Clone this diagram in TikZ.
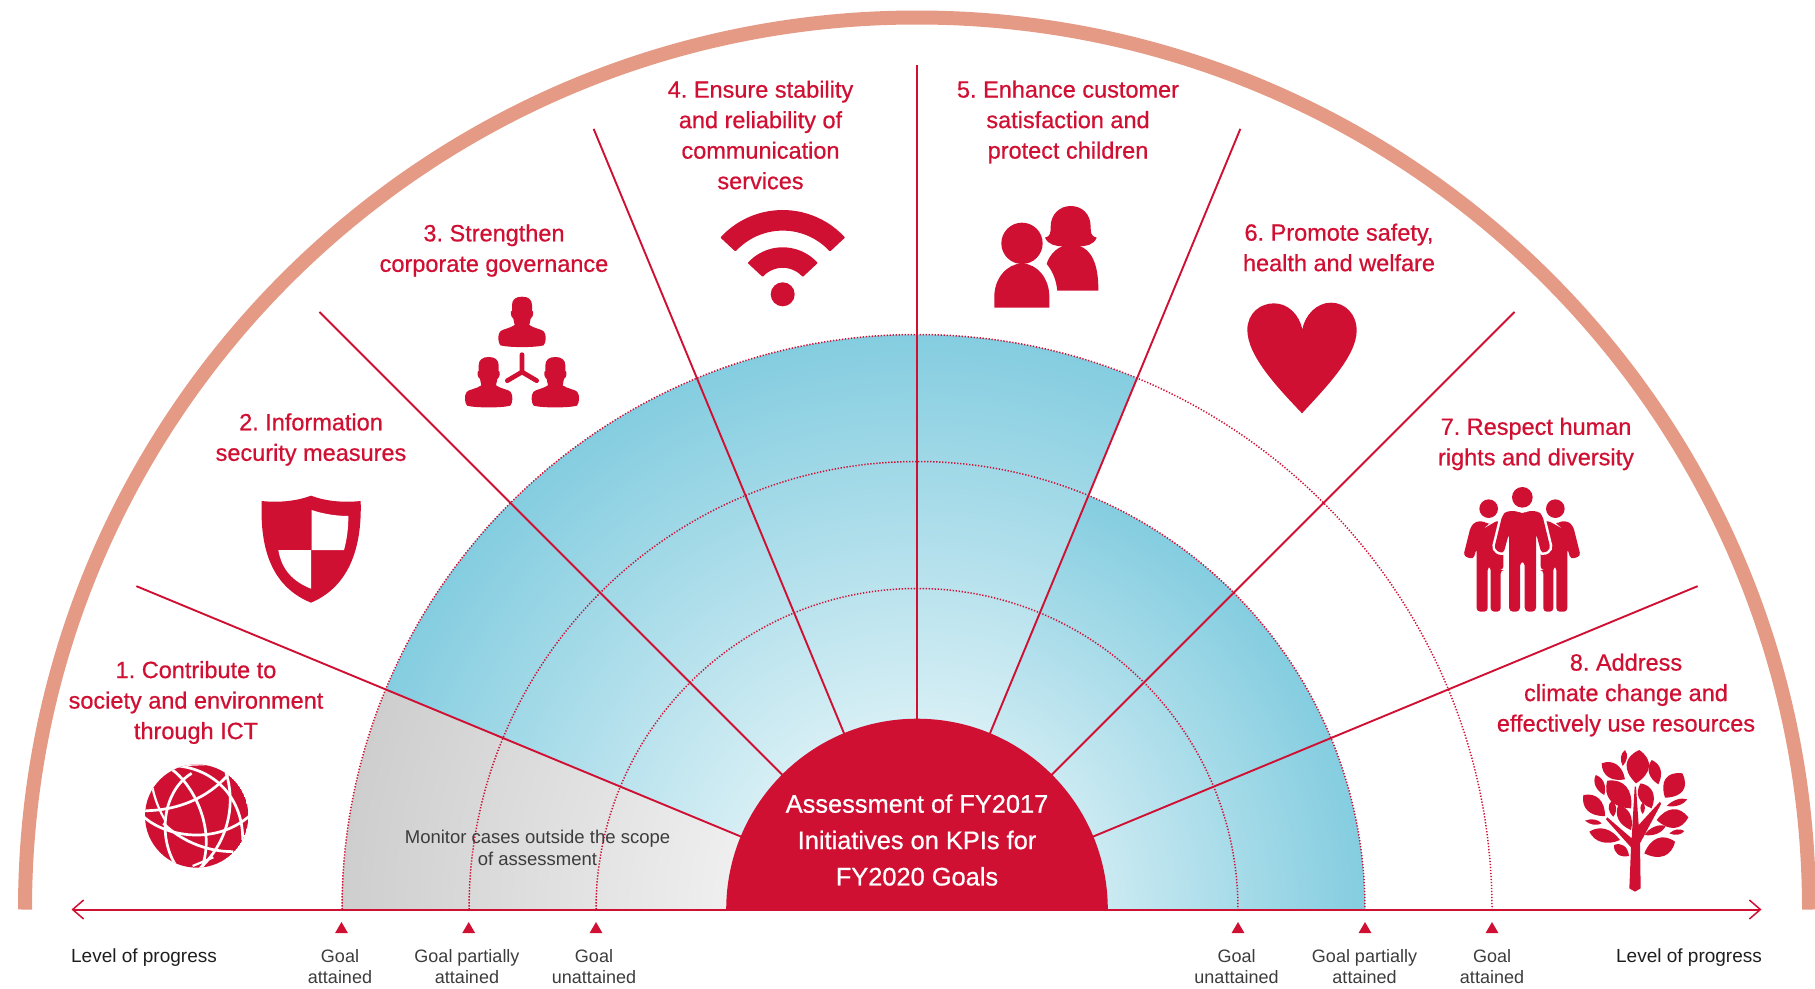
\documentclass[tikz,border=0pt]{standalone}
\usepackage{fontspec}
\setmainfont{Liberation Sans}
\newfontfamily\medfont[FakeBold=0.7]{Liberation Sans}
\usetikzlibrary{calc,arrows.meta}
\frenchspacing
\definecolor{crim}{HTML}{D01033}
\definecolor{archue}{HTML}{E59A85}
\definecolor{skyb}{HTML}{84CDE0}
\definecolor{grayedge}{HTML}{CECECE}
\definecolor{softtxt}{HTML}{3C3C3C}
\definecolor{darktxt}{HTML}{1E1E1E}
\pgfdeclareradialshading{skyfade}{\pgfpoint{0bp}{0bp}}{color(0bp)=(white); color(25bp)=(skyb); color(50bp)=(skyb)}
\pgfdeclareradialshading{grayfade}{\pgfpoint{0bp}{0bp}}{color(0bp)=(white); color(25bp)=(grayedge); color(50bp)=(grayedge)}
\tikzset{
  goaltitle/.style={align=center,text=crim,font=\medfont\fontsize{23.5}{30.5}\selectfont,inner sep=0pt},
  centretitle/.style={align=center,text=white,font=\medfont\fontsize{25.4}{36.4}\selectfont,inner sep=0pt},
  scaletext/.style={align=center,text=softtxt,font=\fontsize{18}{21.8}\selectfont,inner sep=0pt},
  axistext/.style={align=center,text=darktxt,font=\fontsize{19}{21.5}\selectfont,inner sep=0pt},
  spoke/.style={crim,line width=1.9pt},
  ring/.style={crim,line width=1.5pt,dash pattern=on 1.3pt off 1.7pt},
  axisline/.style={crim,line width=2pt,{Straight Barb[length=11pt,width=19pt,line width=1.5pt]}-{Straight Barb[length=11pt,width=19pt,line width=1.5pt]}},
  zoomed/.style={x=.33333pt,y=-.33333pt},
}
\newcommand{\marktri}[1]{\fill[crim] (#1-6.4,933) -- (#1,922) -- (#1+6.4,933) -- cycle;}
% lens-shaped leaf from #1 to #2, half width #3 (crop pixels)
\newcommand{\treeleaf}[3]{%
  \fill[crim] (#1) .. controls ($(#1)!.35!(#2)!#3*.5pt!90:(#2)$) and ($(#1)!.75!(#2)!#3*.5pt!90:(#2)$) .. (#2)
   .. controls ($(#1)!.75!(#2)!#3*.5pt!-90:(#2)$) and ($(#1)!.35!(#2)!#3*.5pt!-90:(#2)$) .. (#1) -- cycle;}
\newcommand{\govperson}[2]{%
  \fill[crim,shift={(#1,#2)}] (-30,75) .. controls (-30,58) and (-18,50) .. (0,50) .. controls (18,50) and (30,58) .. (30,75)
   -- (30,92) .. controls (36,92) and (34,112) .. (26,116) -- (22,135) .. controls (35,145) and (62,148) .. (66,155)
   .. controls (74,165) and (72,188) .. (65,196) .. controls (40,203) and (-40,203) .. (-65,196)
   .. controls (-72,188) and (-74,165) .. (-66,155) .. controls (-62,148) and (-35,145) .. (-22,135) -- (-26,116)
   .. controls (-34,112) and (-36,92) .. (-30,92) -- cycle;}
\newcommand{\midpersonpath}{(200,123) -- (234,123) -- (247,134) -- (260,123) -- (293,123) -- (307,135)
    -- (332,238) -- (305,252) -- (288,190) -- (288,425) -- (254,425) -- (254,275) -- (240,275) -- (240,425) -- (207,425) -- (207,190)
    -- (190,252) -- (162,238) -- (187,135) -- cycle}
\begin{document}
\begin{tikzpicture}[x=1pt,y=-1pt]
\useasboundingbox (0,0) rectangle (1815,988);

% ---------- radial scheme, y axis upward from the centre ----------
\begin{scope}[shift={(917,909.5)},y=1pt]
  \coordinate (axisL) at (-845.5pt,0pt);
  \coordinate (axisR) at (844.5pt,0pt);
  \coordinate (s1i) at (157.5:190pt); \coordinate (s1o) at (157.5:845pt);
  \coordinate (s2i) at (135:190pt);   \coordinate (s2o) at (135:845pt);
  \coordinate (s3i) at (112.5:190pt); \coordinate (s3o) at (112.5:845pt);
  \coordinate (s4i) at (90:190pt);    \coordinate (s4o) at (90:845pt);
  \coordinate (s5i) at (67.5:190pt);  \coordinate (s5o) at (67.5:845pt);
  \coordinate (s6i) at (45:190pt);    \coordinate (s6o) at (45:845pt);
  \coordinate (s7i) at (22.5:190pt);  \coordinate (s7o) at (22.5:845pt);

  \begin{scope}
    \clip (0pt,0pt) -- (157.5:575pt) arc[start angle=157.5,end angle=67.5,radius=575pt] -- cycle;
    \shade[shading=skyfade] (0pt,0pt) circle[radius=575pt];
  \end{scope}
  \begin{scope}
    \clip (0pt,0pt) -- (67.5:448pt) arc[start angle=67.5,end angle=0,radius=448pt] -- cycle;
    \shade[shading=skyfade] (0pt,0pt) circle[radius=448pt];
  \end{scope}
  \begin{scope}
    \clip (0pt,0pt) -- (180:575pt) arc[start angle=180,end angle=157.5,radius=575pt] -- cycle;
    \shade[shading=grayfade] (0pt,0pt) circle[radius=575pt];
  \end{scope}

  \draw[ring] (180:321pt) arc[start angle=180,end angle=0,radius=321pt];
  \draw[ring] (180:448pt) arc[start angle=180,end angle=0,radius=448pt];
  \draw[ring] (180:575pt) arc[start angle=180,end angle=0,radius=575pt];

  \draw[archue,line width=14pt] (180:892pt) arc[start angle=180,end angle=0,radius=892pt];

  \foreach \n in {1,...,7}{\draw[spoke] (s\n i) -- (s\n o);}
  \fill[crim] (180:190.8pt) arc[start angle=180,end angle=0,radius=190.8pt] -- cycle;
  \draw[axisline] (axisL) -- (axisR);
\end{scope}

% ---------- scale ----------
\marktri{341.5}\marktri{468.7}\marktri{596}\marktri{1238}\marktri{1365}\marktri{1492}
\node[centretitle] (centre) at (917,840) {Assessment of FY2017\\Initiatives on KPIs for\\FY2020 Goals};
\node[scaletext,font=\fontsize{18.5}{21.8}\selectfont] (monitor) at (537.5,848) {Monitor cases outside the scope\\of assessment};
\node[axistext] (levelL) at (144,957.5) {Level of progress};
\node[axistext] (levelR) at (1689,957.5) {Level of progress};
\node[scaletext] (g1) at (340,966.5) {Goal\\attained};
\node[scaletext] (g2) at (467,966.5) {Goal partially\\attained};
\node[scaletext] (g3) at (594,966.5) {Goal\\unattained};
\node[scaletext] (g4) at (1236.5,966.5) {Goal\\unattained};
\node[scaletext] (g5) at (1364.5,966.5) {Goal partially\\attained};
\node[scaletext] (g6) at (1492,966.5) {Goal\\attained};

% ---------- goal titles ----------
\node[goaltitle] (t1) at (196,702.5) {1. Contribute to\\society and environment\\through ICT};
\node[goaltitle] (t2) at (311,439.5) {2. Information\\security measures};
\node[goaltitle] (t3) at (494,250.5) {3. Strengthen\\corporate governance};
\node[goaltitle] (t4) at (760.5,135) {4. Ensure stability\\and reliability of\\communication\\services};
\node[goaltitle] (t5) at (1068,122) {5. Enhance customer\\satisfaction and\\protect children};
\node[goaltitle] (t6) at (1339,247.5) {6. Promote safety,\\health and welfare};
\node[goaltitle] (t7) at (1536,444) {7. Respect human\\rights and diversity};
\node[goaltitle] (t8) at (1626,695) {8. Address\\climate change and\\effectively use resources};

% ---------- globe ----------
\begin{scope}[shift={(120,740)},zoomed]
  \begin{scope}
    \clip (230,228) circle[radius=155pt/3];
    \fill[crim] (230,228) circle[radius=155pt/3];
    \draw[white,line width=2.7pt] (60,212) .. controls (160,215) and (260,180) .. (328,100);
    \draw[white,line width=2.7pt] (65,225) .. controls (130,290) and (290,320) .. (395,222);
    \draw[white,line width=2.7pt] (155,88) .. controls (215,130) and (290,260) .. (245,385);
    \draw[white,line width=2.7pt] (215,100) .. controls (130,150) and (110,290) .. (170,380);
    \draw[white,line width=2.7pt] (175,78) .. controls (290,90) and (370,180) .. (368,300);
    \draw[white,line width=2.7pt] (318,98) .. controls (350,200) and (320,310) .. (240,385);
    \draw[white,line width=2.7pt] (130,250) .. controls (175,295) and (250,335) .. (340,335);
    \draw[white,line width=2.2pt] (98,145) .. controls (105,180) and (120,215) .. (135,240);
    \draw[white,line width=2.2pt] (185,75) -- (265,72);
    \draw[white,line width=2.2pt] (218,378) -- (280,352);
  \end{scope}
\end{scope}

% ---------- shield ----------
\begin{scope}[shift={(240,480)},zoomed]
  \fill[crim] (213,47) .. controls (165,65) and (110,68) .. (65,63) .. controls (62,160) and (70,310) .. (213,368)
    .. controls (350,310) and (365,160) .. (362,63) .. controls (315,68) and (260,65) .. (213,47) -- cycle;
  \fill[white] (215,90) .. controls (250,102) and (290,108) .. (325,108) .. controls (325,150) and (320,180) .. (312,210) -- (215,210) -- cycle;
  \fill[white] (115,210) -- (213,210) -- (213,326) .. controls (160,305) and (125,270) .. (115,210) -- cycle;
\end{scope}

% ---------- governance ----------
\begin{scope}[shift={(430,280)},zoomed]
  \govperson{276}{0}\govperson{176}{181}\govperson{376}{181}
  \draw[crim,line width=4.7pt,line cap=round,line join=round] (276,224) -- (276,276) -- (232,302);
  \draw[crim,line width=4.7pt,line cap=round] (276,276) -- (320,302);
\end{scope}

% ---------- wifi ----------
\begin{scope}[shift={(782.7,294.3)},y=1pt]
  \fill[crim] (0pt,0pt) circle[radius=12pt];
  \filldraw[crim,line width=2pt,line join=round] (43:83.3pt) arc[start angle=43,end angle=137,radius=83.3pt] -- (137:64.7pt) arc[start angle=137,end angle=43,radius=64.7pt] -- cycle;
  \filldraw[crim,line width=2pt,line join=round] (43:46pt) arc[start angle=43,end angle=137,radius=46pt] -- (137:27.5pt) arc[start angle=137,end angle=43,radius=27.5pt] -- cycle;
\end{scope}

% ---------- family ----------
\begin{scope}[shift={(950,190)},zoomed]
  \fill[crim] (302,110) .. controls (302,72) and (330,48) .. (362,48) .. controls (396,48) and (422,72) .. (422,110)
     .. controls (422,125) and (422,140) .. (440,143) .. controls (432,165) and (405,170) .. (388,168)
     .. controls (420,178) and (446,215) .. (445,302) -- (322,302)
     .. controls (318,265) and (305,240) .. (290,222) .. controls (298,195) and (318,175) .. (340,168)
     .. controls (320,170) and (295,165) .. (285,143) .. controls (302,140) and (302,125) .. (302,110) -- cycle;
  \fill[crim] (216,160) circle[radius=62pt/3];
  \fill[crim] (133,353) -- (133,320) .. controls (133,265) and (170,222) .. (216,220) .. controls (262,222) and (298,265) .. (298,320) -- (298,353) -- cycle;
\end{scope}

% ---------- heart ----------
\begin{scope}[shift={(1230,290)},zoomed]
  \fill[crim] (216,370) .. controls (150,300) and (52,200) .. (52,120) .. controls (52,70) and (90,40) .. (132,40)
     .. controls (175,40) and (208,75) .. (217,118) .. controls (225,75) and (260,38) .. (303,38)
     .. controls (345,38) and (380,72) .. (380,122) .. controls (380,200) and (280,300) .. (216,370) -- cycle;
\end{scope}

% ---------- people ----------
\begin{scope}[shift={(1440,470)},zoomed]
  \fill[crim] (146,116) circle[radius=28pt/3];
  \fill[crim] (346,116) circle[radius=28pt/3];
  \foreach \m/\c in {1/0,-1/492}{
   \begin{scope}[shift={(\c,0)},x=\m*.33333pt]
    \fill[crim,rounded corners=3.5pt] (107,154) -- (134,154) -- (146,165) -- (158,154) -- (190,154) -- (190,300) -- (182,300)
      -- (182,425) -- (152,425) -- (152,290) -- (143,290) -- (143,425) -- (110,425) -- (110,235) -- (100,268) -- (70,258) -- (92,170) -- cycle;
   \end{scope}}
  \fill[crim] (247,82) circle[radius=31pt/3];
  \draw[white,line width=5pt,rounded corners=4pt] \midpersonpath;
  \fill[crim,rounded corners=4pt] \midpersonpath;
\end{scope}

% ---------- tree ----------
\begin{scope}[shift={(1550,730)},zoomed]
  \fill[crim] (238,475) -- (243,352) -- (168,268) -- (172,262) -- (245,325) -- (254,170) -- (258,170) -- (266,285) -- (330,215) -- (333,222)
     -- (270,340) -- (272,475) -- (255,485) -- cycle;
  \treeleaf{258,160}{268,60}{30}
  \treeleaf{218,108}{225,60}{8}
  \treeleaf{225,148}{155,100}{20}
  \treeleaf{325,163}{305,90}{16}
  \treeleaf{345,203}{397,130}{28}
  \treeleaf{163,195}{137,135}{12}
  \treeleaf{243,235}{172,152}{28}
  \treeleaf{305,235}{272,160}{20}
  \treeleaf{165,258}{100,195}{22}
  \treeleaf{190,260}{185,212}{10}
  \treeleaf{243,300}{205,225}{17}
  \treeleaf{278,252}{278,218}{6}
  \treeleaf{350,228}{412,208}{8}
  \treeleaf{320,270}{415,262}{25}
  \treeleaf{105,272}{155,280}{7}
  \treeleaf{210,330}{118,305}{18}
  \treeleaf{283,315}{347,288}{10}
  \treeleaf{358,310}{403,303}{7}
  \treeleaf{283,370}{375,335}{25}
  \treeleaf{237,378}{192,345}{14}
\end{scope}
\end{tikzpicture}
\end{document}
